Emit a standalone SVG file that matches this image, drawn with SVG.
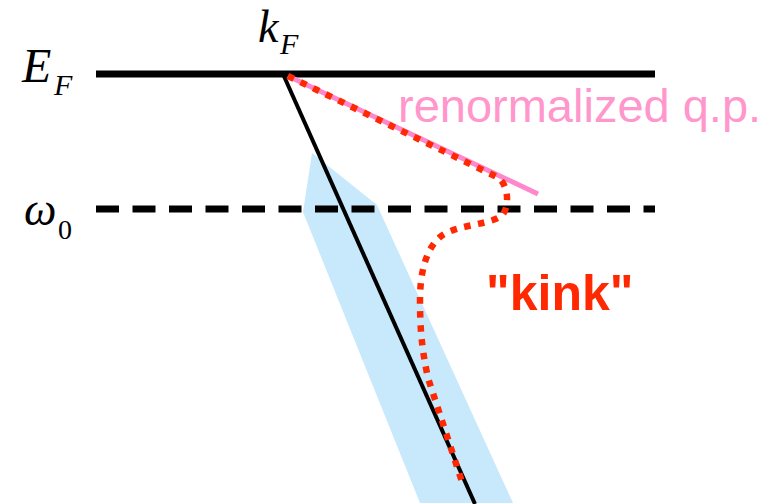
<svg xmlns="http://www.w3.org/2000/svg" width="776" height="504" viewBox="0 0 776 504">
<style>
.math{font-family:"Liberation Serif","DejaVu Serif",serif;font-style:italic;fill:#000}
.up{font-family:"Liberation Serif","DejaVu Serif",serif;font-style:normal;fill:#000}
.lvl{stroke:#000;stroke-width:7;fill:none}
.dot{stroke:#ff2800;stroke-width:6.5;fill:none;stroke-dasharray:6.5 7.5}
</style>
<rect width="776" height="504" fill="#fff"/>
<g id="band"><polygon points="312,153 377,205 513,503 420,503 303,212" fill="#c8e8fb"/></g>
<g id="connectors">
<line id="EF-line" class="lvl" x1="96" y1="74" x2="655" y2="74"/>
<line id="w0-line" class="lvl" x1="96" y1="209" x2="655" y2="209" stroke-dasharray="23 13.5"/>
<line id="bare-band" x1="283" y1="74" x2="475" y2="504" stroke="#000" stroke-width="4"/>
<line id="renorm" x1="288" y1="76" x2="538" y2="194" stroke="#ff88cc" stroke-width="5"/>
<path id="kink-curve" class="dot" d="M288,76 L497,177 C508,183 510,205 503,214 C495,225 455,224 440,237 C425,250 420,275 420,300 C420,330 422,350 428,378 L463,485"/>
</g>
<g id="EF-label"><text class="math" x="22" y="82" font-size="48">E</text><text class="math" x="54" y="95" font-size="30">F</text></g>
<g id="kF-label"><text class="math" x="258" y="42" font-size="46">k</text><text class="math" x="280" y="54" font-size="30">F</text></g>
<g id="w0-label"><text class="math" x="24" y="225" font-size="46">ω</text><text class="up" x="58" y="239" font-size="28">0</text></g>
<g id="renorm-label"><text x="398" y="122" font-family="Liberation Sans, Arial, sans-serif" font-size="47" fill="#ff96cc">renormalized q.p.</text></g>
<g id="kink-label"><text x="486" y="310" font-family="Liberation Sans, Arial, sans-serif" font-size="50" font-weight="bold" fill="#ff2800">"kink"</text></g>
</svg>
